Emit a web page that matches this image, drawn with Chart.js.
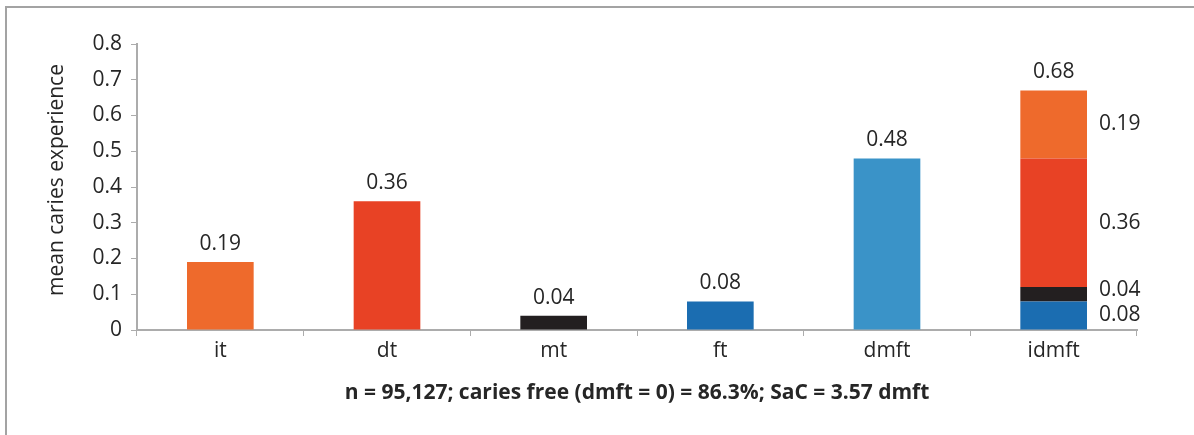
<!DOCTYPE html>
<html>
<head>
<meta charset="utf-8">
<title>Mean caries experience</title>
<script src="https://cdn.jsdelivr.net/npm/chart.js@4.4.1/dist/chart.umd.min.js"></script>
<style>
  html, body { margin: 0; padding: 0; background: #fff; }
  #frame {
    position: relative;
    width: 1194px;
    height: 435px;
  }
  #frame::before {
    content: '';
    position: absolute;
    left: 5px; top: 6px; right: 0; bottom: 0;
    border-top: 2px solid #a3a3a3;
    border-left: 2px solid #a3a3a3;
    pointer-events: none;
  }
  canvas { display: block; }
</style>
</head>
<body>
<div id="frame">
  <canvas id="cariesChart" width="1194" height="435"></canvas>
</div>
<script>
// Categories along the x axis
const categories = ['it', 'dt', 'mt', 'ft', 'dmft', 'idmft'];
// Mean value printed above each column
const meanValues = [0.19, 0.36, 0.04, 0.08, 0.48, 0.68];
// Components stacked in the idmft column, bottom to top
const stackParts = ['ft', 'mt', 'dt', 'it'];
const stackValues = [0.08, 0.04, 0.36, 0.19];
const yTicks = [0, 0.1, 0.2, 0.3, 0.4, 0.5, 0.6, 0.7, 0.8];

const partColors = {
    it: '#ee6a2c',
    dt: '#e84225',
    mt: '#231f20',
    ft: '#1b6db1',
    dmft: '#3a93c8'
};

const textColor = '#262626';
const axisColor = '#acacac';
const fontFamily = '"Open Sans", "Noto Sans", sans-serif';
const fontSize = 21;
const yTitle = 'mean caries experience';

// One dataset per component: its own column plus its slice of idmft
const datasets = stackParts.map((name, i) => ({
    label: name,
    data: categories.map((cat, c) => {
        if (cat === name) return meanValues[c];
        if (cat === 'idmft') return stackValues[i];
        return null;
    }),
    backgroundColor: partColors[name],
    borderWidth: 0
}));
datasets.push({
    label: 'dmft',
    data: categories.map((cat, c) => cat === 'dmft' ? meanValues[c] : null),
    backgroundColor: partColors.dmft,
    borderWidth: 0
});

// Value labels: above single columns, beside the idmft slices
const valueLabels = {
    id: 'valueLabels',
    afterDatasetsDraw(chart) {
        const ctx = chart.ctx;
        ctx.save();
        ctx.font = fontSize + 'px ' + fontFamily;
        ctx.fillStyle = textColor;
        ctx.textBaseline = 'middle';
        const stackIndex = categories.indexOf('idmft');
        let stackTop = null;
        chart.data.datasets.forEach((ds, d) => {
            const meta = chart.getDatasetMeta(d);
            meta.data.forEach((bar, c) => {
                const v = ds.data[c];
                if (v === null || v === undefined) return;
                if (c === stackIndex) {
                    const props = bar.getProps(['x', 'y', 'base', 'width'], true);
                    const midY = (props.y + props.base) / 2 + (ds.label === 'mt' ? -4 : 0);
                    ctx.textAlign = 'left';
                    ctx.fillText(v.toFixed(2), props.x + props.width / 2 + 12, midY);
                    if (stackTop === null || props.y < stackTop.y) stackTop = props;
                } else {
                    const props = bar.getProps(['x', 'y'], true);
                    ctx.textAlign = 'center';
                    ctx.fillText(meanValues[c].toFixed(2), props.x, props.y - 18);
                }
            });
        });
        if (stackTop) {
            ctx.textAlign = 'center';
            ctx.fillText(meanValues[stackIndex].toFixed(2), stackTop.x, stackTop.y - 18);
        }

        // rotated y axis title, sitting a little above the axis middle
        const area = chart.chartArea;
        ctx.translate(57, (area.top + area.bottom) / 2 - 7);
        ctx.rotate(-Math.PI / 2);
        ctx.textAlign = 'center';
        ctx.fillText(yTitle, 0, 0);
        ctx.restore();
    }
};

new Chart(document.getElementById('cariesChart'), {
    type: 'bar',
    data: { labels: categories, datasets: datasets },
    options: {
        responsive: false,
        animation: false,
        layout: { padding: { left: 0, right: 57, top: 44, bottom: 0 } },
        plugins: {
            legend: { display: false },
            tooltip: { enabled: false }
        },
        datasets: {
            bar: { barPercentage: 0.4, categoryPercentage: 1 }
        },
        scales: {
            x: {
                stacked: true,
                afterFit(scale) { scale.height = 105; },
                grid: {
                    offset: true,
                    drawOnChartArea: false,
                    tickLength: 6,
                    color: axisColor
                },
                border: { color: axisColor, width: 2 },
                ticks: {
                    color: textColor,
                    font: { family: fontFamily, size: fontSize },
                    padding: 2
                },
                title: {
                    display: true,
                    text: 'n = 95,127; caries free (dmft = 0) = 86.3%; SaC = 3.57 dmft',
                    color: textColor,
                    font: { family: fontFamily, size: fontSize, weight: 'bold' },
                    padding: { top: 0, bottom: 29 }
                }
            },
            y: {
                stacked: true,
                min: yTicks[0],
                max: yTicks[yTicks.length - 1],
                afterFit(scale) { scale.width = 137; },
                afterBuildTicks(scale) {
                    scale.ticks = yTicks.map(v => ({ value: v }));
                },
                grid: {
                    drawOnChartArea: false,
                    tickLength: 6,
                    color: axisColor
                },
                border: { color: axisColor, width: 2 },
                ticks: {
                    color: textColor,
                    font: { family: fontFamily, size: fontSize },
                    padding: 9,
                    callback: v => String(Math.round(v * 10) / 10)
                }
            }
        }
    },
    plugins: [valueLabels]
});
</script>
</body>
</html>
